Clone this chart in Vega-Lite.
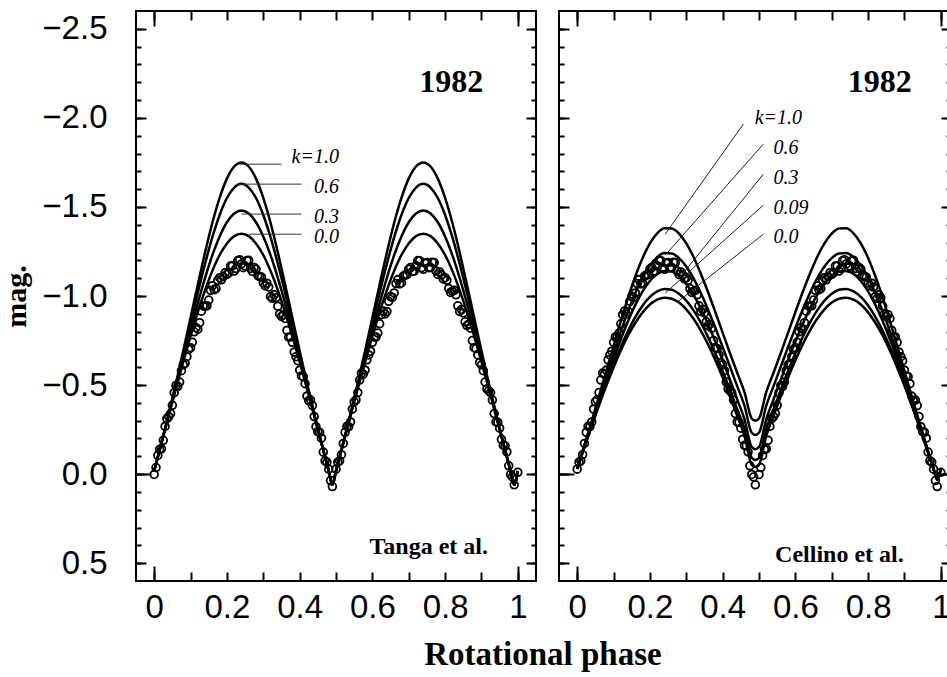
{
  "$schema": "https://vega.github.io/schema/vega-lite/v6.json",
  "background": "white",
  "padding": {"left": 0, "top": 9, "right": 0, "bottom": 0},
  "spacing": 19,
  "title": {"text": "Rotational phase", "orient": "bottom", "anchor": "middle", "font": "Liberation Serif", "fontSize": 33, "fontWeight": "bold", "color": "black", "offset": 14, "dx": 66},
  "config": {
    "view": {"stroke": "black", "strokeWidth": 2},
    "axis": {"domain": false, "grid": false, "tickColor": "black", "tickWidth": 2, "labelColor": "black", "titleColor": "black"}
  },
  "datasets": {
    "curvesL": [
      {"p":0,"a":-0.018,"b":-0.018,"c":-0.018,"d":-0.018},
      {"p":0.02,"a":-0.176,"b":-0.175,"c":-0.174,"d":-0.173},
      {"p":0.04,"a":-0.34,"b":-0.336,"c":-0.332,"d":-0.328},
      {"p":0.06,"a":-0.512,"b":-0.503,"c":-0.491,"d":-0.481},
      {"p":0.08,"a":-0.692,"b":-0.673,"c":-0.65,"d":-0.63},
      {"p":0.1,"a":-0.878,"b":-0.847,"c":-0.808,"d":-0.774},
      {"p":0.12,"a":-1.065,"b":-1.018,"c":-0.96,"d":-0.91},
      {"p":0.14,"a":-1.245,"b":-1.181,"c":-1.102,"d":-1.033},
      {"p":0.16,"a":-1.411,"b":-1.33,"c":-1.229,"d":-1.141},
      {"p":0.18,"a":-1.551,"b":-1.455,"c":-1.334,"d":-1.23},
      {"p":0.2,"a":-1.659,"b":-1.55,"c":-1.414,"d":-1.295},
      {"p":0.22,"a":-1.727,"b":-1.609,"c":-1.463,"d":-1.336},
      {"p":0.24,"a":-1.75,"b":-1.63,"c":-1.48,"d":-1.35},
      {"p":0.26,"a":-1.727,"b":-1.609,"c":-1.463,"d":-1.336},
      {"p":0.28,"a":-1.659,"b":-1.55,"c":-1.414,"d":-1.295},
      {"p":0.3,"a":-1.551,"b":-1.455,"c":-1.334,"d":-1.23},
      {"p":0.32,"a":-1.411,"b":-1.33,"c":-1.229,"d":-1.141},
      {"p":0.34,"a":-1.245,"b":-1.181,"c":-1.102,"d":-1.033},
      {"p":0.36,"a":-1.065,"b":-1.018,"c":-0.96,"d":-0.91},
      {"p":0.38,"a":-0.878,"b":-0.847,"c":-0.808,"d":-0.774},
      {"p":0.4,"a":-0.692,"b":-0.673,"c":-0.65,"d":-0.63},
      {"p":0.42,"a":-0.512,"b":-0.503,"c":-0.491,"d":-0.481},
      {"p":0.44,"a":-0.34,"b":-0.336,"c":-0.332,"d":-0.328},
      {"p":0.46,"a":-0.176,"b":-0.175,"c":-0.174,"d":-0.173},
      {"p":0.48,"a":-0.018,"b":-0.018,"c":-0.018,"d":-0.018},
      {"p":0.49,"a":0.06,"b":0.06,"c":0.06,"d":0.06},
      {"p":0.5,"a":-0.018,"b":-0.018,"c":-0.018,"d":-0.018},
      {"p":0.52,"a":-0.176,"b":-0.175,"c":-0.174,"d":-0.173},
      {"p":0.54,"a":-0.34,"b":-0.336,"c":-0.332,"d":-0.328},
      {"p":0.56,"a":-0.512,"b":-0.503,"c":-0.491,"d":-0.481},
      {"p":0.58,"a":-0.692,"b":-0.673,"c":-0.65,"d":-0.63},
      {"p":0.6,"a":-0.878,"b":-0.847,"c":-0.808,"d":-0.774},
      {"p":0.62,"a":-1.065,"b":-1.018,"c":-0.96,"d":-0.91},
      {"p":0.64,"a":-1.245,"b":-1.181,"c":-1.102,"d":-1.033},
      {"p":0.66,"a":-1.411,"b":-1.33,"c":-1.229,"d":-1.141},
      {"p":0.68,"a":-1.551,"b":-1.455,"c":-1.334,"d":-1.23},
      {"p":0.7,"a":-1.659,"b":-1.55,"c":-1.414,"d":-1.295},
      {"p":0.72,"a":-1.727,"b":-1.609,"c":-1.463,"d":-1.336},
      {"p":0.74,"a":-1.75,"b":-1.63,"c":-1.48,"d":-1.35},
      {"p":0.76,"a":-1.727,"b":-1.609,"c":-1.463,"d":-1.336},
      {"p":0.78,"a":-1.659,"b":-1.55,"c":-1.414,"d":-1.295},
      {"p":0.8,"a":-1.551,"b":-1.455,"c":-1.334,"d":-1.23},
      {"p":0.82,"a":-1.411,"b":-1.33,"c":-1.229,"d":-1.141},
      {"p":0.84,"a":-1.245,"b":-1.181,"c":-1.102,"d":-1.033},
      {"p":0.86,"a":-1.065,"b":-1.018,"c":-0.96,"d":-0.91},
      {"p":0.88,"a":-0.878,"b":-0.847,"c":-0.808,"d":-0.774},
      {"p":0.9,"a":-0.692,"b":-0.673,"c":-0.65,"d":-0.63},
      {"p":0.92,"a":-0.512,"b":-0.503,"c":-0.491,"d":-0.481},
      {"p":0.94,"a":-0.34,"b":-0.336,"c":-0.332,"d":-0.328},
      {"p":0.96,"a":-0.176,"b":-0.175,"c":-0.174,"d":-0.173},
      {"p":0.98,"a":-0.018,"b":-0.018,"c":-0.018,"d":-0.018},
      {"p":0.99,"a":0.06,"b":0.06,"c":0.06,"d":0.06},
      {"p":1.0,"a":-0.018,"b":-0.018,"c":-0.018,"d":-0.018}
    ],
    "curvesR": [
      {"p":0,"a":-0.03,"b":-0.03,"c":-0.03,"e":-0.03,"d":-0.03},
      {"p":0.02,"a":-0.164,"b":-0.16,"c":-0.156,"e":-0.153,"d":-0.151},
      {"p":0.04,"a":-0.299,"b":-0.29,"c":-0.282,"e":-0.275,"d":-0.27},
      {"p":0.06,"a":-0.438,"b":-0.42,"c":-0.406,"e":-0.393,"d":-0.386},
      {"p":0.08,"a":-0.579,"b":-0.55,"c":-0.528,"e":-0.507,"d":-0.496},
      {"p":0.1,"a":-0.72,"b":-0.678,"c":-0.646,"e":-0.615,"d":-0.599},
      {"p":0.12,"a":-0.859,"b":-0.801,"c":-0.757,"e":-0.715,"d":-0.694},
      {"p":0.14,"a":-0.991,"b":-0.915,"c":-0.86,"e":-0.805,"d":-0.778},
      {"p":0.16,"a":-1.111,"b":-1.017,"c":-0.95,"e":-0.883,"d":-0.85},
      {"p":0.18,"a":-1.214,"b":-1.104,"c":-1.026,"e":-0.947,"d":-0.908},
      {"p":0.2,"a":-1.296,"b":-1.172,"c":-1.084,"e":-0.995,"d":-0.952},
      {"p":0.22,"a":-1.352,"b":-1.218,"c":-1.123,"e":-1.026,"d":-0.979},
      {"p":0.24,"a":-1.38,"b":-1.241,"c":-1.14,"e":-1.04,"d":-0.99},
      {"p":0.26,"a":-1.379,"b":-1.239,"c":-1.137,"e":-1.035,"d":-0.985},
      {"p":0.28,"a":-1.35,"b":-1.213,"c":-1.112,"e":-1.013,"d":-0.963},
      {"p":0.3,"a":-1.295,"b":-1.166,"c":-1.068,"e":-0.974,"d":-0.925},
      {"p":0.32,"a":-1.219,"b":-1.099,"c":-1.006,"e":-0.919,"d":-0.872},
      {"p":0.34,"a":-1.125,"b":-1.017,"c":-0.929,"e":-0.85,"d":-0.806},
      {"p":0.36,"a":-1.021,"b":-0.923,"c":-0.841,"e":-0.769,"d":-0.728},
      {"p":0.38,"a":-0.909,"b":-0.821,"c":-0.743,"e":-0.678,"d":-0.639},
      {"p":0.4,"a":-0.794,"b":-0.714,"c":-0.639,"e":-0.579,"d":-0.542},
      {"p":0.42,"a":-0.68,"b":-0.604,"c":-0.531,"e":-0.474,"d":-0.437},
      {"p":0.44,"a":-0.569,"b":-0.494,"c":-0.42,"e":-0.364,"d":-0.328},
      {"p":0.46,"a":-0.46,"b":-0.384,"c":-0.309,"e":-0.252,"d":-0.214},
      {"p":0.48,"a":-0.312,"b":-0.232,"c":-0.152,"e":-0.092,"d":-0.052},
      {"p":0.49,"a":-0.3,"b":-0.22,"c":-0.14,"e":-0.08,"d":-0.04},
      {"p":0.5,"a":-0.312,"b":-0.232,"c":-0.152,"e":-0.092,"d":-0.052},
      {"p":0.52,"a":-0.46,"b":-0.384,"c":-0.309,"e":-0.252,"d":-0.214},
      {"p":0.54,"a":-0.569,"b":-0.494,"c":-0.42,"e":-0.364,"d":-0.328},
      {"p":0.56,"a":-0.68,"b":-0.604,"c":-0.531,"e":-0.474,"d":-0.437},
      {"p":0.58,"a":-0.794,"b":-0.714,"c":-0.639,"e":-0.579,"d":-0.542},
      {"p":0.6,"a":-0.909,"b":-0.821,"c":-0.743,"e":-0.678,"d":-0.639},
      {"p":0.62,"a":-1.021,"b":-0.923,"c":-0.841,"e":-0.769,"d":-0.728},
      {"p":0.64,"a":-1.125,"b":-1.017,"c":-0.929,"e":-0.85,"d":-0.806},
      {"p":0.66,"a":-1.219,"b":-1.099,"c":-1.006,"e":-0.919,"d":-0.872},
      {"p":0.68,"a":-1.295,"b":-1.166,"c":-1.068,"e":-0.974,"d":-0.925},
      {"p":0.7,"a":-1.35,"b":-1.213,"c":-1.112,"e":-1.013,"d":-0.963},
      {"p":0.72,"a":-1.379,"b":-1.239,"c":-1.137,"e":-1.035,"d":-0.985},
      {"p":0.74,"a":-1.38,"b":-1.241,"c":-1.14,"e":-1.04,"d":-0.99},
      {"p":0.76,"a":-1.352,"b":-1.218,"c":-1.123,"e":-1.026,"d":-0.979},
      {"p":0.78,"a":-1.296,"b":-1.172,"c":-1.084,"e":-0.995,"d":-0.952},
      {"p":0.8,"a":-1.214,"b":-1.104,"c":-1.026,"e":-0.947,"d":-0.908},
      {"p":0.82,"a":-1.111,"b":-1.017,"c":-0.95,"e":-0.883,"d":-0.85},
      {"p":0.84,"a":-0.991,"b":-0.915,"c":-0.86,"e":-0.805,"d":-0.778},
      {"p":0.86,"a":-0.859,"b":-0.801,"c":-0.757,"e":-0.715,"d":-0.694},
      {"p":0.88,"a":-0.72,"b":-0.678,"c":-0.646,"e":-0.615,"d":-0.599},
      {"p":0.9,"a":-0.579,"b":-0.55,"c":-0.528,"e":-0.507,"d":-0.496},
      {"p":0.92,"a":-0.438,"b":-0.42,"c":-0.406,"e":-0.393,"d":-0.386},
      {"p":0.94,"a":-0.299,"b":-0.29,"c":-0.282,"e":-0.275,"d":-0.27},
      {"p":0.96,"a":-0.164,"b":-0.16,"c":-0.156,"e":-0.153,"d":-0.151},
      {"p":0.98,"a":-0.03,"b":-0.03,"c":-0.03,"e":-0.03,"d":-0.03},
      {"p":0.99,"a":0.03,"b":0.03,"c":0.03,"e":0.03,"d":0.03},
      {"p":1.0,"a":-0.03,"b":-0.03,"c":-0.03,"e":-0.03,"d":-0.03}
    ],
    "circL": [
      {"p":0,"m":0.002},{"p":0.01,"m":-0.105},{"p":0.02,"m":-0.142},{"p":0.03,"m":-0.268},{"p":0.04,"m":-0.323},
      {"p":0.05,"m":-0.386},{"p":0.06,"m":-0.498},{"p":0.07,"m":-0.517},{"p":0.08,"m":-0.614},{"p":0.09,"m":-0.659},
      {"p":0.1,"m":-0.71},{"p":0.11,"m":-0.799},{"p":0.12,"m":-0.814},{"p":0.13,"m":-0.915},{"p":0.14,"m":-0.943},
      {"p":0.15,"m":-0.977},{"p":0.16,"m":-1.057},{"p":0.17,"m":-1.042},{"p":0.18,"m":-1.103},{"p":0.19,"m":-1.109},
      {"p":0.2,"m":-1.121},{"p":0.21,"m":-1.168},{"p":0.22,"m":-1.14},{"p":0.23,"m":-1.198},{"p":0.24,"m":-1.18},
      {"p":0.25,"m":-1.168},{"p":0.26,"m":-1.2},{"p":0.27,"m":-1.138},{"p":0.28,"m":-1.151},{"p":0.29,"m":-1.109},
      {"p":0.3,"m":-1.073},{"p":0.31,"m":-1.072},{"p":0.32,"m":-0.997},{"p":0.33,"m":-1.007},{"p":0.34,"m":-0.943},
      {"p":0.35,"m":-0.885},{"p":0.36,"m":-0.874},{"p":0.37,"m":-0.769},{"p":0.38,"m":-0.74},{"p":0.39,"m":-0.659},
      {"p":0.4,"m":-0.584},{"p":0.41,"m":-0.547},{"p":0.42,"m":-0.438},{"p":0.43,"m":-0.416},{"p":0.44,"m":-0.323},
      {"p":0.45,"m":-0.238},{"p":0.46,"m":-0.202},{"p":0.47,"m":-0.075},{"p":0.48,"m":-0.028},{"p":0.49,"m":0.07},
      {"p":0.5,"m":-0.028},{"p":0.51,"m":-0.075},{"p":0.52,"m":-0.172},{"p":0.53,"m":-0.268},{"p":0.54,"m":-0.293},
      {"p":0.55,"m":-0.406},{"p":0.56,"m":-0.458},{"p":0.57,"m":-0.567},{"p":0.58,"m":-0.584},{"p":0.59,"m":-0.669},
      {"p":0.6,"m":-0.74},{"p":0.61,"m":-0.769},{"p":0.62,"m":-0.844},{"p":0.63,"m":-0.915},{"p":0.64,"m":-0.913},
      {"p":0.65,"m":-0.997},{"p":0.66,"m":-1.017},{"p":0.67,"m":-1.092},{"p":0.68,"m":-1.073},{"p":0.69,"m":-1.119},
      {"p":0.7,"m":-1.151},{"p":0.71,"m":-1.138},{"p":0.72,"m":-1.17},{"p":0.73,"m":-1.198},{"p":0.74,"m":-1.15},
      {"p":0.75,"m":-1.188},{"p":0.76,"m":-1.16},{"p":0.77,"m":-1.188},{"p":0.78,"m":-1.121},{"p":0.79,"m":-1.119},
      {"p":0.8,"m":-1.103},{"p":0.81,"m":-1.042},{"p":0.82,"m":-1.027},{"p":0.83,"m":-1.007},{"p":0.84,"m":-0.913},
      {"p":0.85,"m":-0.905},{"p":0.86,"m":-0.834},{"p":0.87,"m":-0.819},{"p":0.88,"m":-0.71},{"p":0.89,"m":-0.669},
      {"p":0.9,"m":-0.614},{"p":0.91,"m":-0.517},{"p":0.92,"m":-0.468},{"p":0.93,"m":-0.416},{"p":0.94,"m":-0.293},
      {"p":0.95,"m":-0.258},{"p":0.96,"m":-0.162},{"p":0.97,"m":-0.125},{"p":0.98,"m":0.002},{"p":0.99,"m":0.06},
      {"p":1.0,"m":-0.01},
      {"p":0.005,"m":-0.037},{"p":0.015,"m":-0.139},{"p":0.025,"m":-0.19},{"p":0.035,"m":-0.311},{"p":0.045,"m":-0.34},
      {"p":0.055,"m":-0.457},{"p":0.065,"m":-0.493},{"p":0.075,"m":-0.581},{"p":0.085,"m":-0.622},{"p":0.095,"m":-0.7},
      {"p":0.105,"m":-0.74},{"p":0.115,"m":-0.822},{"p":0.125,"m":-0.85},{"p":0.135,"m":-0.944},{"p":0.145,"m":-0.945},
      {"p":0.155,"m":-1.032},{"p":0.165,"m":-1.035},{"p":0.175,"m":-1.088},{"p":0.185,"m":-1.091},{"p":0.195,"m":-1.13},
      {"p":0.205,"m":-1.13},{"p":0.215,"m":-1.169},{"p":0.225,"m":-1.154},{"p":0.235,"m":-1.204},{"p":0.245,"m":-1.159},
      {"p":0.255,"m":-1.199},{"p":0.265,"m":-1.154},{"p":0.275,"m":-1.16},{"p":0.285,"m":-1.115},{"p":0.295,"m":-1.106},
      {"p":0.305,"m":-1.058},{"p":0.315,"m":-1.05},{"p":0.325,"m":-0.987},{"p":0.335,"m":-0.99},{"p":0.345,"m":-0.899},
      {"p":0.355,"m":-0.895},{"p":0.365,"m":-0.807},{"p":0.375,"m":-0.77},{"p":0.385,"m":-0.685},{"p":0.395,"m":-0.637},
      {"p":0.405,"m":-0.551},{"p":0.415,"m":-0.508},{"p":0.425,"m":-0.412},{"p":0.435,"m":-0.385},{"p":0.445,"m":-0.266},
      {"p":0.455,"m":-0.235},{"p":0.465,"m":-0.124},{"p":0.475,"m":-0.067},{"p":0.485,"m":0.036},
      {"p":0.505,"m":-0.067},{"p":0.515,"m":-0.109},{"p":0.525,"m":-0.235},{"p":0.535,"m":-0.266},{"p":0.545,"m":-0.365},
      {"p":0.555,"m":-0.417},{"p":0.565,"m":-0.528},{"p":0.575,"m":-0.561},{"p":0.585,"m":-0.642},{"p":0.595,"m":-0.69},
      {"p":0.605,"m":-0.77},{"p":0.615,"m":-0.792},{"p":0.625,"m":-0.895},{"p":0.635,"m":-0.899},{"p":0.645,"m":-0.97},
      {"p":0.655,"m":-0.992},{"p":0.665,"m":-1.07},{"p":0.675,"m":-1.068},{"p":0.685,"m":-1.111},{"p":0.695,"m":-1.12},
      {"p":0.705,"m":-1.16},{"p":0.715,"m":-1.139},{"p":0.725,"m":-1.199},{"p":0.735,"m":-1.159},{"p":0.745,"m":-1.184},
      {"p":0.755,"m":-1.159},{"p":0.765,"m":-1.189},{"p":0.775,"m":-1.14},{"p":0.785,"m":-1.135},{"p":0.795,"m":-1.096},
      {"p":0.805,"m":-1.088},{"p":0.815,"m":-1.02},{"p":0.825,"m":-1.032},{"p":0.835,"m":-0.945},{"p":0.845,"m":-0.924},
      {"p":0.855,"m":-0.855},{"p":0.865,"m":-0.842},{"p":0.875,"m":-0.75},{"p":0.885,"m":-0.705},{"p":0.895,"m":-0.627},
      {"p":0.905,"m":-0.581},{"p":0.915,"m":-0.478},{"p":0.925,"m":-0.457},{"p":0.935,"m":-0.34},{"p":0.945,"m":-0.291},
      {"p":0.955,"m":-0.195},{"p":0.965,"m":-0.159},{"p":0.975,"m":-0.047},{"p":0.985,"m":0.016}
    ],
    "circR": [
      {"p":0,"m":-0.028},{"p":0.01,"m":-0.075},{"p":0.02,"m":-0.172},{"p":0.03,"m":-0.268},{"p":0.04,"m":-0.293},
      {"p":0.05,"m":-0.406},{"p":0.06,"m":-0.458},{"p":0.07,"m":-0.567},{"p":0.08,"m":-0.584},{"p":0.09,"m":-0.669},
      {"p":0.1,"m":-0.74},{"p":0.11,"m":-0.769},{"p":0.12,"m":-0.844},{"p":0.13,"m":-0.915},{"p":0.14,"m":-0.913},
      {"p":0.15,"m":-0.997},{"p":0.16,"m":-1.017},{"p":0.17,"m":-1.092},{"p":0.18,"m":-1.073},{"p":0.19,"m":-1.119},
      {"p":0.2,"m":-1.151},{"p":0.21,"m":-1.138},{"p":0.22,"m":-1.17},{"p":0.23,"m":-1.198},{"p":0.24,"m":-1.15},
      {"p":0.25,"m":-1.188},{"p":0.26,"m":-1.16},{"p":0.27,"m":-1.188},{"p":0.28,"m":-1.121},{"p":0.29,"m":-1.119},
      {"p":0.3,"m":-1.103},{"p":0.31,"m":-1.042},{"p":0.32,"m":-1.027},{"p":0.33,"m":-1.007},{"p":0.34,"m":-0.913},
      {"p":0.35,"m":-0.905},{"p":0.36,"m":-0.834},{"p":0.37,"m":-0.819},{"p":0.38,"m":-0.71},{"p":0.39,"m":-0.669},
      {"p":0.4,"m":-0.614},{"p":0.41,"m":-0.517},{"p":0.42,"m":-0.468},{"p":0.43,"m":-0.416},{"p":0.44,"m":-0.293},
      {"p":0.45,"m":-0.258},{"p":0.46,"m":-0.162},{"p":0.47,"m":-0.125},{"p":0.48,"m":0.002},{"p":0.49,"m":0.06},
      {"p":0.5,"m":0.002},{"p":0.51,"m":-0.105},{"p":0.52,"m":-0.142},{"p":0.53,"m":-0.268},{"p":0.54,"m":-0.323},
      {"p":0.55,"m":-0.386},{"p":0.56,"m":-0.498},{"p":0.57,"m":-0.517},{"p":0.58,"m":-0.614},{"p":0.59,"m":-0.659},
      {"p":0.6,"m":-0.71},{"p":0.61,"m":-0.799},{"p":0.62,"m":-0.814},{"p":0.63,"m":-0.915},{"p":0.64,"m":-0.943},
      {"p":0.65,"m":-0.977},{"p":0.66,"m":-1.057},{"p":0.67,"m":-1.042},{"p":0.68,"m":-1.103},{"p":0.69,"m":-1.109},
      {"p":0.7,"m":-1.121},{"p":0.71,"m":-1.168},{"p":0.72,"m":-1.14},{"p":0.73,"m":-1.198},{"p":0.74,"m":-1.18},
      {"p":0.75,"m":-1.168},{"p":0.76,"m":-1.2},{"p":0.77,"m":-1.138},{"p":0.78,"m":-1.151},{"p":0.79,"m":-1.109},
      {"p":0.8,"m":-1.073},{"p":0.81,"m":-1.072},{"p":0.82,"m":-0.997},{"p":0.83,"m":-1.007},{"p":0.84,"m":-0.943},
      {"p":0.85,"m":-0.885},{"p":0.86,"m":-0.874},{"p":0.87,"m":-0.769},{"p":0.88,"m":-0.74},{"p":0.89,"m":-0.659},
      {"p":0.9,"m":-0.584},{"p":0.91,"m":-0.547},{"p":0.92,"m":-0.438},{"p":0.93,"m":-0.416},{"p":0.94,"m":-0.323},
      {"p":0.95,"m":-0.238},{"p":0.96,"m":-0.202},{"p":0.97,"m":-0.075},{"p":0.98,"m":-0.028},{"p":0.99,"m":0.07},
      {"p":1.0,"m":-0.01},
      {"p":0.005,"m":-0.067},{"p":0.015,"m":-0.109},{"p":0.025,"m":-0.235},{"p":0.035,"m":-0.266},{"p":0.045,"m":-0.365},
      {"p":0.055,"m":-0.417},{"p":0.065,"m":-0.528},{"p":0.075,"m":-0.561},{"p":0.085,"m":-0.642},{"p":0.095,"m":-0.69},
      {"p":0.105,"m":-0.77},{"p":0.115,"m":-0.792},{"p":0.125,"m":-0.895},{"p":0.135,"m":-0.899},{"p":0.145,"m":-0.97},
      {"p":0.155,"m":-0.992},{"p":0.165,"m":-1.07},{"p":0.175,"m":-1.068},{"p":0.185,"m":-1.111},{"p":0.195,"m":-1.12},
      {"p":0.205,"m":-1.16},{"p":0.215,"m":-1.139},{"p":0.225,"m":-1.199},{"p":0.235,"m":-1.159},{"p":0.245,"m":-1.184},
      {"p":0.255,"m":-1.159},{"p":0.265,"m":-1.189},{"p":0.275,"m":-1.14},{"p":0.285,"m":-1.135},{"p":0.295,"m":-1.096},
      {"p":0.305,"m":-1.088},{"p":0.315,"m":-1.02},{"p":0.325,"m":-1.032},{"p":0.335,"m":-0.945},{"p":0.345,"m":-0.924},
      {"p":0.355,"m":-0.855},{"p":0.365,"m":-0.842},{"p":0.375,"m":-0.75},{"p":0.385,"m":-0.705},{"p":0.395,"m":-0.627},
      {"p":0.405,"m":-0.581},{"p":0.415,"m":-0.478},{"p":0.425,"m":-0.457},{"p":0.435,"m":-0.34},{"p":0.445,"m":-0.291},
      {"p":0.455,"m":-0.195},{"p":0.465,"m":-0.159},{"p":0.475,"m":-0.047},{"p":0.485,"m":0.016},
      {"p":0.505,"m":-0.037},{"p":0.515,"m":-0.139},{"p":0.525,"m":-0.19},{"p":0.535,"m":-0.311},{"p":0.545,"m":-0.34},
      {"p":0.555,"m":-0.457},{"p":0.565,"m":-0.493},{"p":0.575,"m":-0.581},{"p":0.585,"m":-0.622},{"p":0.595,"m":-0.7},
      {"p":0.605,"m":-0.74},{"p":0.615,"m":-0.822},{"p":0.625,"m":-0.85},{"p":0.635,"m":-0.944},{"p":0.645,"m":-0.945},
      {"p":0.655,"m":-1.032},{"p":0.665,"m":-1.035},{"p":0.675,"m":-1.088},{"p":0.685,"m":-1.091},{"p":0.695,"m":-1.13},
      {"p":0.705,"m":-1.13},{"p":0.715,"m":-1.169},{"p":0.725,"m":-1.154},{"p":0.735,"m":-1.204},{"p":0.745,"m":-1.159},
      {"p":0.755,"m":-1.199},{"p":0.765,"m":-1.154},{"p":0.775,"m":-1.16},{"p":0.785,"m":-1.115},{"p":0.795,"m":-1.106},
      {"p":0.805,"m":-1.058},{"p":0.815,"m":-1.05},{"p":0.825,"m":-0.987},{"p":0.835,"m":-0.99},{"p":0.845,"m":-0.899},
      {"p":0.855,"m":-0.895},{"p":0.865,"m":-0.807},{"p":0.875,"m":-0.77},{"p":0.885,"m":-0.685},{"p":0.895,"m":-0.637},
      {"p":0.905,"m":-0.551},{"p":0.915,"m":-0.508},{"p":0.925,"m":-0.412},{"p":0.935,"m":-0.385},{"p":0.945,"m":-0.266},
      {"p":0.955,"m":-0.235},{"p":0.965,"m":-0.124},{"p":0.975,"m":-0.067},{"p":0.985,"m":0.036}
    ],
    "leadL": [
      {"x":0.234,"y":-1.74,"x2":0.35,"y2":-1.74},
      {"x":0.234,"y":-1.628,"x2":0.405,"y2":-1.628},
      {"x":0.24,"y":-1.46,"x2":0.405,"y2":-1.46},
      {"x":0.262,"y":-1.347,"x2":0.405,"y2":-1.347}
    ],
    "leadR": [
      {"x":0.457,"y":-1.965,"x2":0.242,"y2":-1.347},
      {"x":0.512,"y":-1.853,"x2":0.242,"y2":-1.229},
      {"x":0.512,"y":-1.684,"x2":0.278,"y2":-1.094},
      {"x":0.512,"y":-1.51,"x2":0.242,"y2":-1.016},
      {"x":0.512,"y":-1.347,"x2":0.275,"y2":-0.965}
    ],
    "klabL": [
      {"x":0.508,"y":-1.78,"t":"k=1.0"},
      {"x":0.508,"y":-1.611,"t":"0.6"},
      {"x":0.508,"y":-1.443,"t":"0.3"},
      {"x":0.508,"y":-1.33,"t":"0.0"}
    ],
    "klabR": [
      {"x":0.488,"y":-1.999,"t":"k=1.0"},
      {"x":0.54,"y":-1.83,"t":"0.6"},
      {"x":0.54,"y":-1.662,"t":"0.3"},
      {"x":0.54,"y":-1.493,"t":"0.09"},
      {"x":0.54,"y":-1.33,"t":"0.0"}
    ]
  },
  "hconcat": [
    {
      "width": 400,
      "height": 570,
      "resolve": {"axis": {"x": "independent", "y": "independent"}},
      "layer": [
        {
          "data": {"name": "curvesL"},
          "transform": [{"fold": ["a", "b", "c", "d"], "as": ["k", "mag"]}],
          "mark": {"type": "line", "color": "black", "strokeWidth": 2.5, "interpolate": "monotone"},
          "encoding": {
            "x": {"field": "p", "type": "quantitative", "scale": {"domain": [-0.05, 1.05], "nice": false, "zero": false},
                  "axis": {"orient": "bottom", "values": [0, 0.2, 0.4, 0.6, 0.8, 1], "format": "~g", "ticks": false, "labelPadding": 10, "labelFont": "Liberation Sans", "labelFontSize": 33, "labelFlush": false, "labelOverlap": false, "title": null}},
            "y": {"field": "mag", "type": "quantitative", "scale": {"domain": [-2.6, 0.6], "reverse": true, "nice": false, "zero": false},
                  "axis": {"orient": "left", "values": [-2.5, -2, -1.5, -1, -0.5, 0, 0.5], "format": ".1f", "ticks": false, "labelPadding": 29, "labelFont": "Liberation Sans", "labelFontSize": 33, "labelOverlap": false, "title": "mag.", "titleFont": "Liberation Serif", "titleFontSize": 30, "titleFontWeight": "bold", "titlePadding": 10}},
            "detail": {"field": "k", "type": "nominal"}
          }
        },
        {
          "data": {"name": "circL"},
          "mark": {"type": "point", "shape": "circle", "filled": false, "color": "black", "opacity": 1, "strokeWidth": 1.8, "size": 60},
          "encoding": {
            "x": {"field": "p", "type": "quantitative", "scale": {"domain": [-0.05, 1.05], "nice": false, "zero": false},
                  "axis": {"orient": "bottom", "values": [0, 0.1, 0.2, 0.3, 0.4, 0.5, 0.6, 0.7, 0.8, 0.9, 1], "tickSize": -9, "labels": false, "title": null}},
            "y": {"field": "m", "type": "quantitative", "scale": {"domain": [-2.6, 0.6], "reverse": true, "nice": false, "zero": false},
                  "axis": {"orient": "left", "values": [-2.5, -2.4, -2.3, -2.2, -2.1, -2, -1.9, -1.8, -1.7, -1.6, -1.5, -1.4, -1.3, -1.2, -1.1, -1, -0.9, -0.8, -0.7, -0.6, -0.5, -0.4, -0.3, -0.2, -0.1, 0, 0.1, 0.2, 0.3, 0.4, 0.5], "tickSize": -5, "labels": false, "title": null}}
          }
        },
        {
          "data": {"name": "leadL"},
          "mark": {"type": "rule", "color": "#333333", "strokeWidth": 1},
          "encoding": {
            "x": {"field": "x", "type": "quantitative", "scale": {"domain": [-0.05, 1.05], "nice": false, "zero": false},
                  "axis": {"orient": "top", "values": [0, 0.1, 0.2, 0.3, 0.4, 0.5, 0.6, 0.7, 0.8, 0.9, 1], "tickSize": -9, "labels": false, "title": null}},
            "x2": {"field": "x2"},
            "y": {"field": "y", "type": "quantitative", "scale": {"domain": [-2.6, 0.6], "reverse": true, "nice": false, "zero": false},
                  "axis": {"orient": "right", "values": [-2.5, -2.4, -2.3, -2.2, -2.1, -2, -1.9, -1.8, -1.7, -1.6, -1.5, -1.4, -1.3, -1.2, -1.1, -1, -0.9, -0.8, -0.7, -0.6, -0.5, -0.4, -0.3, -0.2, -0.1, 0, 0.1, 0.2, 0.3, 0.4, 0.5], "tickSize": -5, "labels": false, "title": null}},
            "y2": {"field": "y2"}
          }
        },
        {
          "data": {"name": "klabL"},
          "mark": {"type": "text", "font": "Liberation Serif", "fontStyle": "italic", "fontSize": 20, "align": "right", "baseline": "middle", "color": "black"},
          "encoding": {
            "x": {"field": "x", "type": "quantitative", "scale": {"domain": [-0.05, 1.05], "nice": false, "zero": false},
                  "axis": {"orient": "bottom", "values": [0, 1], "tickSize": -15, "labels": false, "title": null}},
            "y": {"field": "y", "type": "quantitative", "scale": {"domain": [-2.6, 0.6], "reverse": true, "nice": false, "zero": false},
                  "axis": {"orient": "left", "values": [-2.5, -2, -1.5, -1, -0.5, 0, 0.5], "tickSize": -10, "labels": false, "title": null}},
            "text": {"field": "t", "type": "nominal"}
          }
        },
        {
          "data": {"values": [{"x": 0.905, "y": -2.2, "t": "1982"}]},
          "mark": {"type": "text", "font": "Liberation Serif", "fontWeight": "bold", "fontSize": 32, "align": "right", "baseline": "middle", "color": "black"},
          "encoding": {
            "x": {"field": "x", "type": "quantitative", "scale": {"domain": [-0.05, 1.05], "nice": false, "zero": false},
                  "axis": {"orient": "top", "values": [0, 1], "tickSize": -15, "labels": false, "title": null}},
            "y": {"field": "y", "type": "quantitative", "scale": {"domain": [-2.6, 0.6], "reverse": true, "nice": false, "zero": false},
                  "axis": {"orient": "right", "values": [-2.5, -2, -1.5, -1, -0.5, 0, 0.5], "tickSize": -10, "labels": false, "title": null}},
            "text": {"field": "t", "type": "nominal"}
          }
        },
        {
          "data": {"values": [{"x": 0.918, "y": 0.41, "t": "Tanga et al."}]},
          "mark": {"type": "text", "font": "Liberation Serif", "fontWeight": "bold", "fontSize": 24, "align": "right", "baseline": "middle", "color": "black"},
          "encoding": {
            "x": {"field": "x", "type": "quantitative", "scale": {"domain": [-0.05, 1.05], "nice": false, "zero": false}, "axis": null},
            "y": {"field": "y", "type": "quantitative", "scale": {"domain": [-2.6, 0.6], "reverse": true, "nice": false, "zero": false},
                  "axis": {"orient": "left", "values": [0], "tickSize": -15, "labels": false, "title": null}},
            "text": {"field": "t", "type": "nominal"}
          }
        }
      ]
    },
    {
      "width": 392,
      "height": 570,
      "resolve": {"axis": {"x": "independent", "y": "independent"}},
      "layer": [
        {
          "data": {"name": "curvesR"},
          "transform": [{"fold": ["a", "b", "c", "e", "d"], "as": ["k", "mag"]}],
          "mark": {"type": "line", "color": "black", "strokeWidth": 2.5, "interpolate": "monotone"},
          "encoding": {
            "x": {"field": "p", "type": "quantitative", "scale": {"domain": [-0.05, 1.028], "nice": false, "zero": false},
                  "axis": {"orient": "bottom", "values": [0, 0.2, 0.4, 0.6, 0.8, 1], "format": "~g", "ticks": false, "labelPadding": 10, "labelFont": "Liberation Sans", "labelFontSize": 33, "labelFlush": false, "labelOverlap": false, "title": null}},
            "y": {"field": "mag", "type": "quantitative", "scale": {"domain": [-2.6, 0.6], "reverse": true, "nice": false, "zero": false},
                  "axis": {"orient": "left", "values": [-2.5, -2.4, -2.3, -2.2, -2.1, -2, -1.9, -1.8, -1.7, -1.6, -1.5, -1.4, -1.3, -1.2, -1.1, -1, -0.9, -0.8, -0.7, -0.6, -0.5, -0.4, -0.3, -0.2, -0.1, 0, 0.1, 0.2, 0.3, 0.4, 0.5], "tickSize": -5, "labels": false, "title": null}},
            "detail": {"field": "k", "type": "nominal"}
          }
        },
        {
          "data": {"name": "circR"},
          "mark": {"type": "point", "shape": "circle", "filled": false, "color": "black", "opacity": 1, "strokeWidth": 1.8, "size": 60},
          "encoding": {
            "x": {"field": "p", "type": "quantitative", "scale": {"domain": [-0.05, 1.028], "nice": false, "zero": false},
                  "axis": {"orient": "bottom", "values": [0, 0.1, 0.2, 0.3, 0.4, 0.5, 0.6, 0.7, 0.8, 0.9, 1], "tickSize": -9, "labels": false, "title": null}},
            "y": {"field": "m", "type": "quantitative", "scale": {"domain": [-2.6, 0.6], "reverse": true, "nice": false, "zero": false},
                  "axis": {"orient": "left", "values": [-2.5, -2, -1.5, -1, -0.5, 0, 0.5], "tickSize": -10, "labels": false, "title": null}}
          }
        },
        {
          "data": {"name": "leadR"},
          "mark": {"type": "rule", "color": "#222222", "strokeWidth": 1},
          "encoding": {
            "x": {"field": "x", "type": "quantitative", "scale": {"domain": [-0.05, 1.028], "nice": false, "zero": false},
                  "axis": {"orient": "top", "values": [0, 0.1, 0.2, 0.3, 0.4, 0.5, 0.6, 0.7, 0.8, 0.9, 1], "tickSize": -9, "labels": false, "title": null}},
            "x2": {"field": "x2"},
            "y": {"field": "y", "type": "quantitative", "scale": {"domain": [-2.6, 0.6], "reverse": true, "nice": false, "zero": false},
                  "axis": {"orient": "right", "values": [-2.5, -2.4, -2.3, -2.2, -2.1, -2, -1.9, -1.8, -1.7, -1.6, -1.5, -1.4, -1.3, -1.2, -1.1, -1, -0.9, -0.8, -0.7, -0.6, -0.5, -0.4, -0.3, -0.2, -0.1, 0, 0.1, 0.2, 0.3, 0.4, 0.5], "tickSize": -5, "labels": false, "title": null}},
            "y2": {"field": "y2"}
          }
        },
        {
          "data": {"name": "klabR"},
          "mark": {"type": "text", "font": "Liberation Serif", "fontStyle": "italic", "fontSize": 20, "align": "left", "baseline": "middle", "color": "black"},
          "encoding": {
            "x": {"field": "x", "type": "quantitative", "scale": {"domain": [-0.05, 1.028], "nice": false, "zero": false},
                  "axis": {"orient": "bottom", "values": [0, 1], "tickSize": -15, "labels": false, "title": null}},
            "y": {"field": "y", "type": "quantitative", "scale": {"domain": [-2.6, 0.6], "reverse": true, "nice": false, "zero": false},
                  "axis": {"orient": "right", "values": [-2.5, -2, -1.5, -1, -0.5, 0, 0.5], "tickSize": -10, "labels": false, "title": null}},
            "text": {"field": "t", "type": "nominal"}
          }
        },
        {
          "data": {"values": [{"x": 0.92, "y": -2.2, "t": "1982"}]},
          "mark": {"type": "text", "font": "Liberation Serif", "fontWeight": "bold", "fontSize": 32, "align": "right", "baseline": "middle", "color": "black"},
          "encoding": {
            "x": {"field": "x", "type": "quantitative", "scale": {"domain": [-0.05, 1.028], "nice": false, "zero": false},
                  "axis": {"orient": "top", "values": [0, 1], "tickSize": -15, "labels": false, "title": null}},
            "y": {"field": "y", "type": "quantitative", "scale": {"domain": [-2.6, 0.6], "reverse": true, "nice": false, "zero": false},
                  "axis": {"orient": "left", "values": [0], "tickSize": -15, "labels": false, "title": null}},
            "text": {"field": "t", "type": "nominal"}
          }
        },
        {
          "data": {"values": [{"x": 0.898, "y": 0.456, "t": "Cellino et al."}]},
          "mark": {"type": "text", "font": "Liberation Serif", "fontWeight": "bold", "fontSize": 24, "align": "right", "baseline": "middle", "color": "black"},
          "encoding": {
            "x": {"field": "x", "type": "quantitative", "scale": {"domain": [-0.05, 1.028], "nice": false, "zero": false}, "axis": null},
            "y": {"field": "y", "type": "quantitative", "scale": {"domain": [-2.6, 0.6], "reverse": true, "nice": false, "zero": false},
                  "axis": {"orient": "right", "values": [0], "tickSize": -15, "labels": false, "title": null}},
            "text": {"field": "t", "type": "nominal"}
          }
        }
      ]
    }
  ]
}
